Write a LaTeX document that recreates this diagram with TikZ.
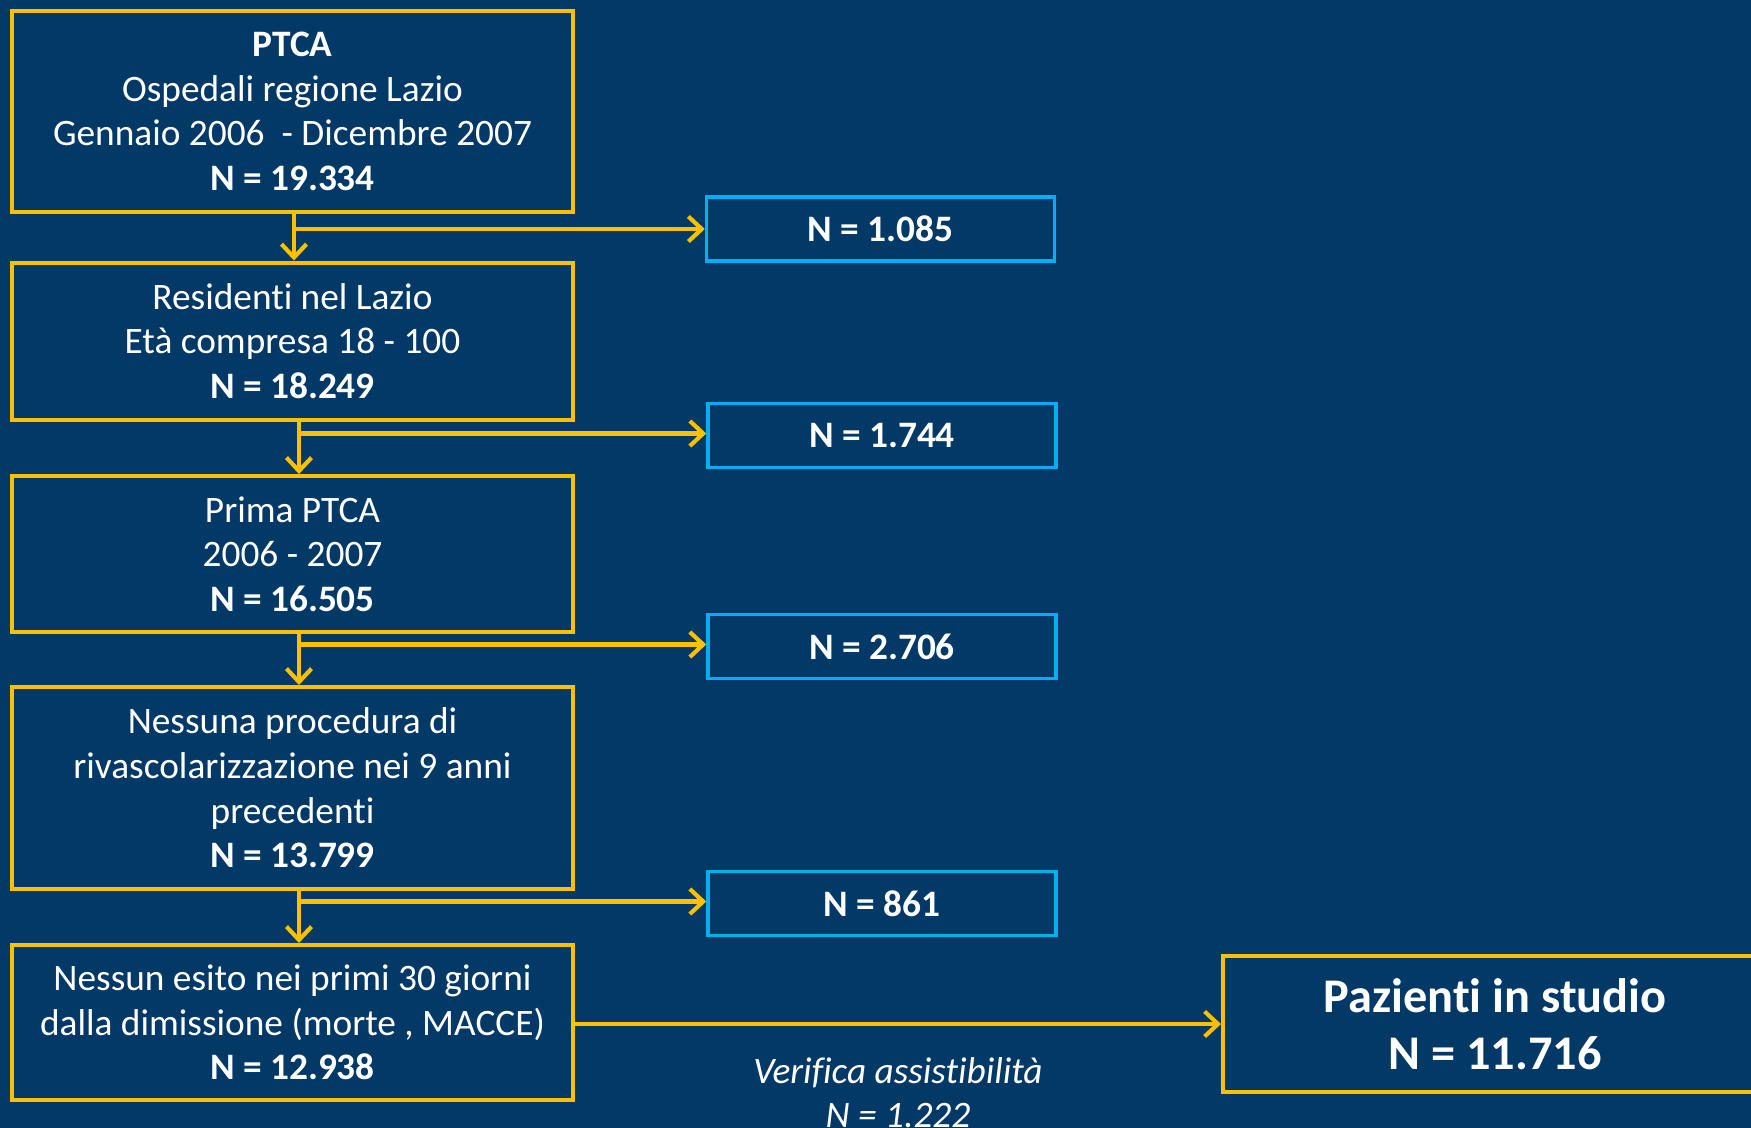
\documentclass[tikz,border=0pt]{standalone}
\usepackage{fontspec}
\setmainfont{Carlito}[Ligatures=CommonOff]
\usetikzlibrary{arrows.meta}
\definecolor{bg}{RGB}{3,57,102}
\definecolor{gold}{RGB}{255,192,0}
\definecolor{cyanb}{RGB}{0,176,240}
\begin{document}
\begin{tikzpicture}[x=0.6pt,y=-0.6pt,
  mainbox/.style={draw=gold,line width=2.4pt,fill=bg,text=white,align=center,
    minimum width={561*0.6pt},inner sep=0pt,font=\fontsize{22.4}{26.8}\selectfont},
  exbox/.style={draw=cyanb,line width=2.1pt,fill=bg,text=white,align=center,
    minimum width={348*0.6pt},minimum height={64*0.6pt},inner sep=0pt,
    font=\fontsize{22.4}{26.8}\selectfont\bfseries},
  finalbox/.style={draw=gold,line width=2.4pt,fill=bg,text=white,align=center,
    minimum width={544*0.6pt},minimum height={136*0.6pt},inner sep=0pt,
    font=\fontsize{29}{34.5}\selectfont\bfseries},
  arr/.style={draw=gold,line width=2.5pt,-{Straight Barb[length=8pt,width=15pt]}},
  lbl/.style={text=white,align=center,font=\fontsize{22.4}{26.4}\selectfont\itshape}]
\fill[bg] (0,0) rectangle (1751,1128);
\useasboundingbox (0,0) rectangle (1751,1128);

\node[mainbox,minimum height={201*0.6pt}] (b1) at (292.5,111.5)
  {\textbf{PTCA}\\Ospedali regione Lazio\\Gennaio 2006~~- Dicembre 2007\\\textbf{N = 19.334}};
\node[mainbox,minimum height={157*0.6pt}] (b2) at (292.5,341)
  {Residenti nel Lazio\\Età compresa 18 - 100\\\textbf{N = 18.249}};
\node[mainbox,minimum height={156*0.6pt}] (b3) at (292.5,554)
  {Prima PTCA\\2006 - 2007\\\textbf{N = 16.505}};
\node[mainbox,minimum height={202*0.6pt}] (b4) at (292.5,788)
  {Nessuna procedura di\\rivascolarizzazione nei 9 anni\\precedenti\\\textbf{N = 13.799}};
\node[mainbox,minimum height={155*0.6pt}] (b5) at (292.5,1022.5)
  {Nessun esito nei primi 30 giorni\\dalla dimissione (morte , MACCE)\\\textbf{N = 12.938}};

\node[exbox] (c1) at (880.5,229) {N = 1.085};
\node[exbox] (c2) at (882,435.5) {N = 1.744};
\node[exbox] (c3) at (882,646.5) {N = 2.706};
\node[exbox] (c4) at (882,903.5) {N = 861};

\node[finalbox] (fin) at (1495,1024) {Pazienti in studio\\N = 11.716};

\node[lbl] (ver) at (898,1093) {Verifica assistibilità\\N = 1.222};

\coordinate (j1) at (294,229);
\coordinate (j2) at (299,433.5);
\coordinate (j3) at (299,644.5);
\coordinate (j4) at (299,901.5);

\draw[arr] (b1.south -| j1) -- (b2.north -| j1);
\draw[arr] (b2.south -| j2) -- (b3.north -| j2);
\draw[arr] (b3.south -| j3) -- (b4.north -| j3);
\draw[arr] (b4.south -| j4) -- (b5.north -| j4);

\draw[arr] (j1) -- (c1.west);
\draw[arr] (j2) -- (c2.west |- j2);
\draw[arr] (j3) -- (c3.west |- j3);
\draw[arr] (j4) -- (c4.west |- j4);

\draw[arr] (b5.east |- fin.west) -- (fin.west);
\end{tikzpicture}
\end{document}
